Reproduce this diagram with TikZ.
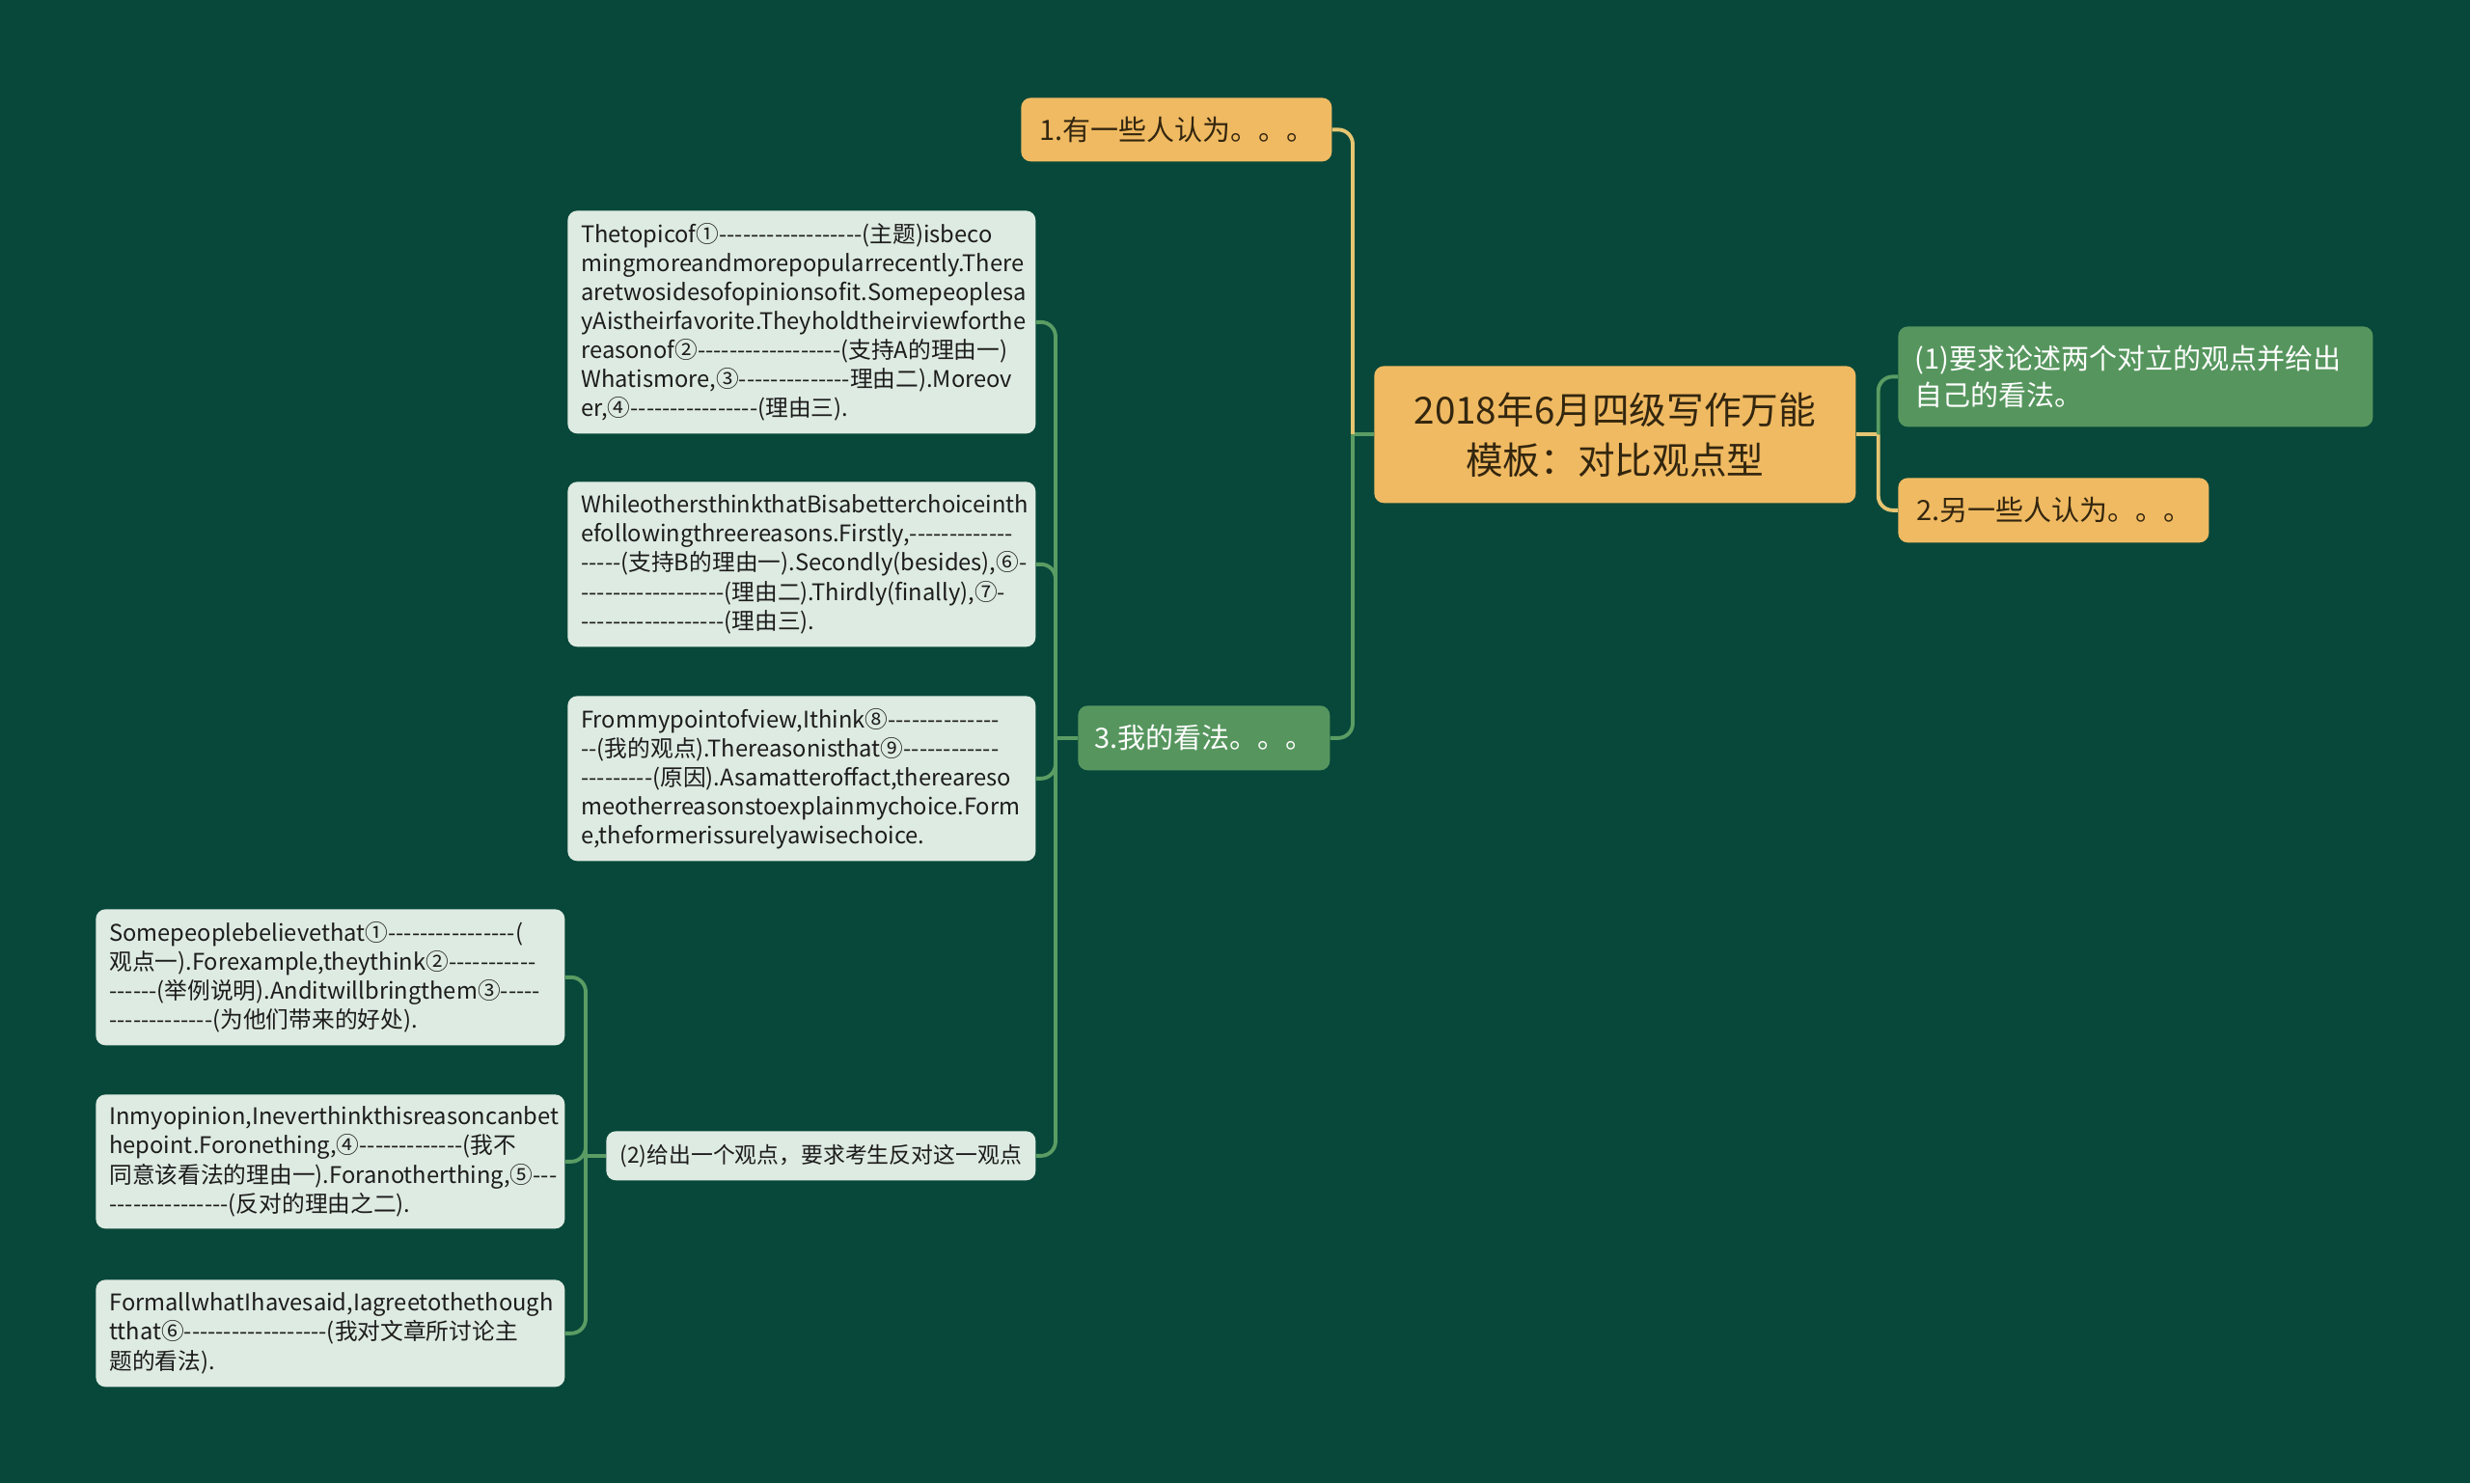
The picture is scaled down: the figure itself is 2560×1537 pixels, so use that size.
\documentclass[tikz,border=0pt]{standalone}
\usepackage{fontspec}
\usepackage{xcolor}
\newfontfamily\cjkfont{Noto Sans CJK SC}
\exhyphenpenalty=10000
\hyphenpenalty=10000

\definecolor{bgcol}{HTML}{08483A}
\definecolor{orfill}{HTML}{F0BA62}
\definecolor{orcol}{HTML}{E6C572}
\definecolor{grfill}{HTML}{56965E}
\definecolor{grcol}{HTML}{5A9C63}
\definecolor{leaffill}{HTML}{DEEBE2}
\definecolor{leafink}{HTML}{1C1C1C}
\definecolor{rootink}{HTML}{33260F}

\begin{document}
\begin{tikzpicture}[x=0.2mm, y=-0.2mm,
  box/.style={anchor=north west, rounded corners=2mm, align=left, inner ysep=0pt},
  rootbox/.style={box, fill=orfill, text=rootink, align=center, inner xsep=3mm,
    font=\cjkfont\fontsize{22}{29.6}\selectfont},
  orbox/.style={box, fill=orfill, text=rootink, inner xsep=3.8mm,
    font=\cjkfont\fontsize{16.5}{22}\selectfont},
  grbox/.style={box, fill=grfill, text=white, inner xsep=3.4mm,
    font=\cjkfont\fontsize{16.5}{22}\selectfont},
  leafbox/.style={box, fill=leaffill, text=leafink, inner xsep=2.8mm,
    font=\cjkfont\fontsize{13.5}{17.1}\selectfont},
  orline/.style={draw=orcol, line width=2.2pt},
  grline/.style={draw=grcol, line width=2.2pt},
  elbow/.style={rounded corners=3mm}
]
  \fill[bgcol] (0,0) rectangle (2560,1537);
  \useasboundingbox (0,0) rectangle (2560,1537);

  % centre and first level
  \node[rootbox, text width=93.8mm, minimum height=28.4mm] (root) at (1424,379)
    {2018年6月四级写作万能\\模板：对比观点型};
  \node[orbox, text width=56.8mm, minimum height=13.2mm] (some) at (1058,101)
    {1.有一些人认为。。。};
  \node[grbox, text width=91.6mm, minimum height=20.8mm] (req) at (1967,338)
    {(1)要求论述两个对立的观点并给出\\自己的看法。};
  \node[orbox, text width=56.8mm, minimum height=13.4mm] (others) at (1967,495)
    {2.另一些人认为。。。};
  \node[grbox, text width=45.4mm, minimum height=13.4mm] (mine) at (1117,731)
    {3.我的看法。。。};

  % template paragraphs
  \node[leafbox, text width=91.4mm, minimum height=46.2mm] (tpa) at (588,218)
    {Thetopicof①------------------(主题)isbeco\\
     mingmoreandmorepopularrecently.There\\
     aretwosidesofopinionsofit.Somepeoplesa\\
     yAistheirfavorite.Theyholdtheirviewforthe\\
     reasonof②------------------(支持A的理由一)\\
     Whatismore,③--------------理由二).Moreov\\
     er,④----------------(理由三).};
  \node[leafbox, text width=91.4mm, minimum height=34.2mm] (tpb) at (588,499)
    {WhileothersthinkthatBisabetterchoiceinth\\
     efollowingthreereasons.Firstly,-------------\\
     -----(支持B的理由一).Secondly(besides),⑥-\\
     ------------------(理由二).Thirdly(finally),⑦-\\
     ------------------(理由三).};
  \node[leafbox, text width=91.4mm, minimum height=34.2mm] (tpc) at (588,721)
    {Frommypointofview,Ithink⑧--------------\\
     --(我的观点).Thereasonisthat⑨------------\\
     ---------(原因).Asamatteroffact,thereareso\\
     meotherreasonstoexplainmychoice.Form\\
     e,theformerissurelyawisechoice.};
  \node[leafbox, text width=83.4mm, minimum height=10.2mm,
    font=\cjkfont\fontsize{13}{17.1}\selectfont] (opt) at (628,1172)
    {(2)给出一个观点，要求考生反对这一观点};

  \node[leafbox, text width=91.6mm, minimum height=28.2mm] (opa) at (99,942)
    {Somepeoplebelievethat①----------------(\\
     观点一).Forexample,theythink②-----------\\
     ------(举例说明).Anditwillbringthem③-----\\
     -------------(为他们带来的好处).};
  \node[leafbox, text width=91.6mm, minimum height=27.8mm] (opb) at (99,1134)
    {Inmyopinion,Ineverthinkthisreasoncanbet\\
     hepoint.Foronething,④-------------(我不\\
     同意该看法的理由一).Foranotherthing,⑤---\\
     ---------------(反对的理由之二).};
  \node[leafbox, text width=91.6mm, minimum height=22.2mm] (opc) at (99,1326)
    {FormallwhatIhavesaid,Iagreetothethough\\
     tthat⑥------------------(我对文章所讨论主\\
     题的看法).};

  % junctions
  \coordinate (jl) at ([xshift=-4.4mm]root.west);
  \coordinate (jr) at ([xshift=4.6mm]root.east);
  \coordinate (jm) at ([xshift=-4.6mm]mine.west);
  \coordinate (js) at ([xshift=-4.2mm]opt.west);

  \draw[grline] (root.west) -- (jl);
  \draw[orline, elbow] (jl) |- (some.east);
  \draw[grline, elbow] (jl) |- (mine.east);

  \draw[orline] (root.east) -- (jr);
  \draw[grline, elbow] (jr) |- (req.west);
  \draw[orline, elbow] (jr) |- (others.west);

  \draw[grline] (mine.west) -- (jm);
  \foreach \t in {tpa,tpb,tpc,opt}
    \draw[grline, elbow] (jm) |- (\t.east);

  \draw[grline] (opt.west) -- (js);
  \foreach \t in {opa,opb,opc}
    \draw[grline, elbow] (js) |- (\t.east);
\end{tikzpicture}
\end{document}
